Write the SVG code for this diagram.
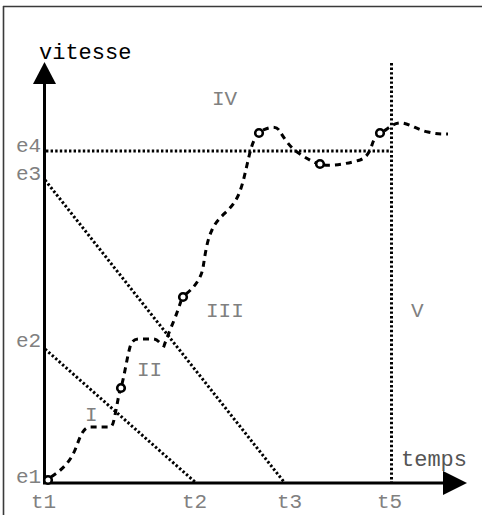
<svg xmlns="http://www.w3.org/2000/svg" width="482" height="515" viewBox="0 0 482 515">
  <style>
    .lbl { font-family: "Liberation Mono", "Courier New", monospace; font-size: 21px; fill: #808080; }
    .dot { fill: none; stroke: #000; stroke-width: 3; stroke-dasharray: 2.4 2.2; }
    .dash { fill: none; stroke: #000; stroke-width: 3; stroke-dasharray: 6 5; stroke-linecap: butt; }
    .pt { fill: #fff; stroke: #000; stroke-width: 2.6; }
    .axis { stroke: #000; stroke-width: 3; fill: none; }
  </style>
  <rect width="482" height="515" fill="#fff"/>
  <g id="frame">
    <line x1="3" y1="6.5" x2="482" y2="6.5" stroke="#3a3a3a" stroke-width="1.6"/>
    <line x1="3.5" y1="6" x2="3.5" y2="515" stroke="#3a3a3a" stroke-width="1.6"/>
  </g>
  <g id="axes">
    <line class="axis" x1="44.5" y1="484" x2="44.5" y2="82"/>
    <polygon points="33,84 56,84 44.5,62" fill="#000"/>
    <line class="axis" x1="43" y1="483" x2="446" y2="483"/>
    <polygon points="443,471 443,495 467,483" fill="#000"/>
    <text x="39" y="59" style="font-family:'Liberation Mono','Courier New',monospace;font-size:22px;fill:#000">vitesse</text>
    <text x="401" y="466" class="lbl" style="fill:#555;font-size:22px">temps</text>
  </g>
  <g id="guides">
    <line class="dot" x1="46" y1="151" x2="391" y2="151"/>
    <line class="dot" x1="391.5" y1="63" x2="391.5" y2="482"/>
    <line class="dot" x1="45" y1="180" x2="284" y2="482"/>
    <line class="dot" x1="45" y1="349" x2="195" y2="482"/>
  </g>
  <g id="axis-labels">
    <text class="lbl" x="16" y="152">e4</text>
    <text class="lbl" x="16" y="180">e3</text>
    <text class="lbl" x="16" y="347">e2</text>
    <text class="lbl" x="16" y="483">e1</text>
    <text class="lbl" x="31" y="508">t1</text>
    <text class="lbl" x="182" y="508">t2</text>
    <text class="lbl" x="277" y="508">t3</text>
    <text class="lbl" x="377" y="508">t5</text>
  </g>
  <g id="zones">
    <text class="lbl" x="85" y="421">I</text>
    <text class="lbl" x="137" y="376">II</text>
    <text class="lbl" x="206" y="317">III</text>
    <text class="lbl" x="212" y="105">IV</text>
    <text class="lbl" x="411" y="317">V</text>
  </g>
  <g id="curve">
    <path class="dash" d="M51,477 C 62,470 70,462 75,450 C 80,438 82,428 90,427 L 110,427 C 113,427 114,420 116,410 C 118,400 119,393 120,391"/>
    <path class="dash" d="M122,384 C 125,372 127,358 130,347 C 132,340 135,339 140,339 L 153,339 C 158,339 160,344 164,346 C 166,340 170,330 175,318 C 178,310 180,304 181,301"/>
    <path class="dash" d="M186,294 C 195,287 201,278 203,268 C 205,255 207,240 212,230 C 217,218 228,212 234,203 C 241,193 244,178 247,165 C 250,152 252,143 256,137"/>
    <path class="dash" d="M263,130 C 268,128 275,125 279,130 C 284,138 290,148 300,154 C 306,158 311,161 316,163"/>
    <path class="dash" d="M324,165 C 335,166 350,163 360,160 C 368,157 370,150 372,145 C 373,141 375,138 377,136"/>
    <path class="dash" d="M384,131 C 390,127 395,122 402,123 C 410,124 418,130 428,132 C 436,134 442,134 448,134"/>
  </g>
  <g id="points">
    <circle class="pt" cx="48" cy="480" r="3.8"/>
    <circle class="pt" cx="121" cy="388" r="3.8"/>
    <circle class="pt" cx="183" cy="297" r="3.8"/>
    <circle class="pt" cx="259" cy="133" r="3.8"/>
    <circle class="pt" cx="320" cy="164" r="3.8"/>
    <circle class="pt" cx="380" cy="133" r="3.8"/>
  </g>
</svg>
